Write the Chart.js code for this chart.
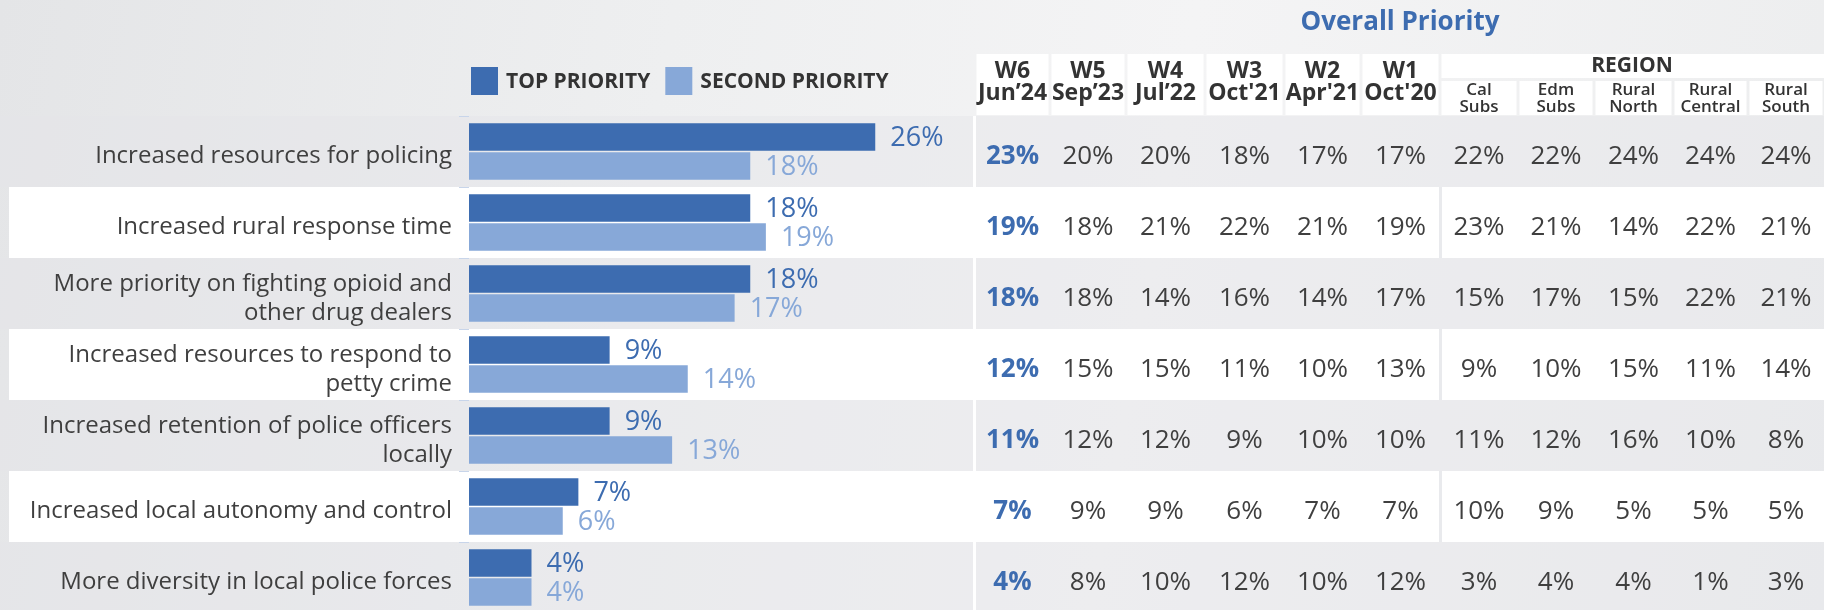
<!DOCTYPE html>
<html>
<head>
<meta charset="utf-8">
<script src="https://cdn.jsdelivr.net/npm/chart.js@4.4.1/dist/chart.umd.min.js"></script>
<style>
    html, body { margin: 0; padding: 0; width: 1824px; height: 610px; overflow: hidden; }
    body { background: linear-gradient(100deg, #e4e5e7 0%, #eeeff0 35%, #f4f4f5 62%, #ecedee 100%); }
    #chart { display: block; }
</style>
</head>
<body>
<canvas id="chart" width="1824" height="613"></canvas>
<script>
// categories (multi-line labels as in the source)
const categories = [
    "Increased resources for policing",
    "Increased rural response time",
    ["More priority on fighting opioid and", "other drug dealers"],
    ["Increased resources to respond to", "petty crime"],
    ["Increased retention of police officers", "locally"],
    "Increased local autonomy and control",
    "More diversity in local police forces"
];

const topPriority = [26, 18, 18, 9, 9, 7, 4];
const secondPriority = [18, 19, 17, 14, 13, 6, 4];

// Overall priority table
const waveHeaders = [["W6", "Jun\u201924"], ["W5", "Sep\u201923"], ["W4", "Jul\u201922"], ["W3", "Oct'21"], ["W2", "Apr'21"], ["W1", "Oct'20"]];
const w6 = [23, 19, 18, 12, 11, 7, 4];
const w5 = [20, 18, 18, 15, 12, 9, 8];
const w4 = [20, 21, 14, 15, 12, 9, 10];
const w3 = [18, 22, 16, 11, 9, 6, 12];
const w2 = [17, 21, 14, 10, 10, 7, 10];
const w1 = [17, 19, 17, 13, 10, 7, 12];

const regionTitle = "REGION";
const regionHeaders = [["Cal", "Subs"], ["Edm", "Subs"], ["Rural", "North"], ["Rural", "Central"], ["Rural", "South"]];
const calSubs = [22, 23, 15, 9, 11, 10, 3];
const edmSubs = [22, 21, 17, 10, 12, 9, 4];
const ruralNorth = [24, 14, 15, 15, 16, 5, 4];
const ruralCentral = [24, 22, 22, 11, 10, 5, 1];
const ruralSouth = [24, 21, 21, 14, 8, 5, 3];

const tableTitle = "Overall Priority";

const waveColumns = [w6, w5, w4, w3, w2, w1];
const regionColumns = [calSubs, edmSubs, ruralNorth, ruralCentral, ruralSouth];

const DARK = "#3d6cb0";
const LIGHT = "#87a8d8";
const TEXT = "#3f3f3f";
const FONT = "'Open Sans', sans-serif";

// column edges of the table (pixels)
const colEdges = [975, 1050, 1126, 1205, 1284, 1361, 1440, 1518, 1594, 1673, 1748, 1824];

const tablePlugin = {
    id: "priorityTable",
    beforeDraw(chart) {
        const ctx = chart.ctx;
        const y = chart.scales.y;
        const half = (y.getPixelForValue(1) - y.getPixelForValue(0)) / 2;
        ctx.save();

        // row bands
        categories.forEach((c, i) => {
            const top = y.getPixelForValue(i) - half;
            if (i % 2 === 1) {
                ctx.fillStyle = "#ffffff";
                ctx.fillRect(9, top, chart.width - 9, half * 2);
                ctx.fillStyle = "#e9eaed";
                ctx.fillRect(1439, top, 3, half * 2);
            } else {
                ctx.fillStyle = "rgba(228,229,232,0.45)";
                ctx.fillRect(0, top, chart.width, half * 2);
                ctx.fillStyle = "#ffffff";
                ctx.fillRect(973, top, 3, half * 2);
            }
        });

        // title
        ctx.fillStyle = DARK;
        ctx.font = "bold 26px " + FONT;
        ctx.textAlign = "center";
        ctx.textBaseline = "middle";
        ctx.fillText(tableTitle, 1400, 23);

        // header cells
        const hTop = 54, hBot = 115;
        ctx.fillStyle = "#ffffff";
        for (let i = 0; i < 6; i++) {
            ctx.fillRect(colEdges[i] + 1.5, hTop, colEdges[i + 1] - colEdges[i] - 3, hBot - hTop);
        }
        ctx.fillRect(colEdges[6] + 1.5, hTop, chart.width - colEdges[6] - 1.5, 24);
        for (let i = 6; i < 11; i++) {
            ctx.fillRect(colEdges[i] + 1.5, 81, colEdges[i + 1] - colEdges[i] - 3, hBot - 81);
        }

        ctx.fillStyle = "#333333";
        ctx.font = "bold 23px " + FONT;
        waveHeaders.forEach((h, i) => {
            const cx = (colEdges[i] + colEdges[i + 1]) / 2;
            ctx.fillText(h[0], cx, 71);
            ctx.fillText(h[1], cx, 93);
        });
        ctx.font = "bold 21px " + FONT;
        ctx.fillText(regionTitle, (colEdges[6] + chart.width) / 2, 66);
        ctx.font = "600 17px " + FONT;
        regionHeaders.forEach((h, i) => {
            const cx = (colEdges[i + 6] + colEdges[i + 7]) / 2;
            ctx.fillText(h[0], cx, 90);
            ctx.fillText(h[1], cx, 107);
        });

        // values
        const cols = waveColumns.concat(regionColumns);
        cols.forEach((col, ci) => {
            const cx = (colEdges[ci] + colEdges[ci + 1]) / 2;
            col.forEach((v, ri) => {
                const cy = y.getPixelForValue(ri) + 5;
                if (ci === 0) {
                    ctx.fillStyle = DARK;
                    ctx.font = "bold 26px " + FONT;
                } else {
                    ctx.fillStyle = TEXT;
                    ctx.font = "26px " + FONT;
                }
                ctx.fillText(v + "%", cx, cy);
            });
        });

        // legend
        let lx = 471;
        ctx.textAlign = "left";
        ctx.font = "bold 21px " + FONT;
        chart.data.datasets.forEach(ds => {
            ctx.fillStyle = ds.backgroundColor;
            ctx.fillRect(lx, 67, 27, 28);
            ctx.fillStyle = "#333333";
            ctx.fillText(ds.label, lx + 35, 82);
            lx += 35 + ctx.measureText(ds.label).width + 15;
        });
        ctx.restore();
    },
    afterDatasetsDraw(chart) {
        const ctx = chart.ctx;
        ctx.save();
        ctx.font = "27px " + FONT;
        ctx.textAlign = "left";
        ctx.textBaseline = "middle";
        chart.data.datasets.forEach((ds, di) => {
            const meta = chart.getDatasetMeta(di);
            ctx.fillStyle = di === 0 ? DARK : LIGHT;
            meta.data.forEach((bar, i) => {
                ctx.fillText(ds.data[i] + "%", bar.x + 15, bar.y + 1);
            });
        });
        ctx.restore();
    }
};

new Chart(document.getElementById("chart"), {
    type: "bar",
    data: {
        labels: categories,
        datasets: [
            { label: "TOP PRIORITY", data: topPriority, backgroundColor: DARK },
            { label: "SECOND PRIORITY", data: secondPriority, backgroundColor: LIGHT }
        ]
    },
    options: {
        indexAxis: "y",
        responsive: false,
        animation: false,
        categoryPercentage: 0.82,
        barPercentage: 0.94,
        layout: { padding: { top: 116, bottom: 0, left: 0, right: 855 } },
        plugins: { legend: { display: false }, tooltip: { enabled: false } },
        scales: {
            x: { display: false, min: 0, max: 32 },
            y: {
                afterFit(scale) {
                    scale.width = 469;
                    scale.paddingTop = 0;
                    scale.paddingBottom = 0;
                },
                border: { display: false },
                grid: { drawOnChartArea: false, tickLength: 10, color: "#c8d5ea" },
                ticks: {
                    padding: 7,
                    labelOffset: 5,
                    color: TEXT,
                    font: { family: "'Open Sans', sans-serif", size: 24 },
                    autoSkip: false
                }
            }
        }
    },
    plugins: [tablePlugin]
});
</script>
</body>
</html>
